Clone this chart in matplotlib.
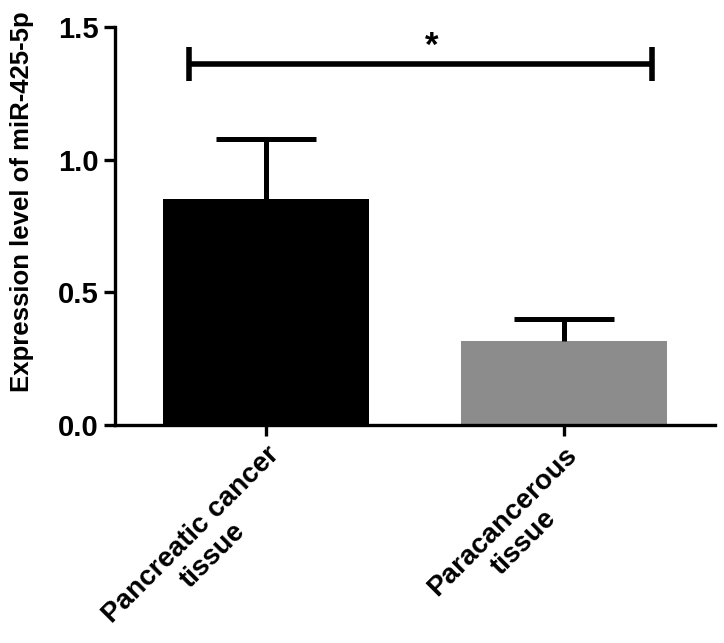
import matplotlib
matplotlib.use("Agg")
from matplotlib import pyplot as plt

groups = ["Pancreatic cancer\ntissue", "Paracancerous\ntissue"]
means = [0.853, 0.316]
sem = [0.226, 0.082]
bar_colors = ["#000000", "#8c8c8c"]
yticks = [0.0, 0.5, 1.0, 1.5]
sig_y = 1.36
sig_text = "*"

plt.rcParams['font.family'] = ['Liberation Sans', 'DejaVu Sans']
plt.rcParams['font.weight'] = 'bold'

fig = plt.figure(figsize=(7.24, 6.43), dpi=100)
ax = fig.add_axes([0.159, 0.339, 0.829, 0.619])

x = [0, 1]
ax.bar(x, means, width=0.69, color=bar_colors, zorder=2)

# upper error bars only (stem + cap)
cap_half = 0.167
for xi, m, e in zip(x, means, sem):
    ax.plot([xi, xi], [m, m + e], color='black', lw=3.6, solid_capstyle='butt', zorder=3)
    ax.plot([xi - cap_half, xi + cap_half], [m + e, m + e], color='black', lw=3.6,
            solid_capstyle='butt', zorder=3)

# significance bracket
ax.plot([-0.258, 1.295], [sig_y, sig_y], color='black', lw=4, solid_capstyle='butt',
        clip_on=False)
for xb in [-0.258, 1.295]:
    ax.plot([xb, xb], [sig_y - 0.065, sig_y + 0.065], color='black', lw=4,
            solid_capstyle='butt', clip_on=False)
ax.text(0.555, sig_y + 0.005, sig_text, ha='center', va='bottom', fontsize=25,
        fontweight='bold')

ax.set_xlim(-0.507, 1.507)
ax.set_ylim(0, 1.5)
ax.set_yticks(yticks)
ax.set_yticklabels(["{:.1f}".format(v) for v in yticks], fontsize=21, fontweight='bold')
ax.set_xticks(x)
ax.set_xticklabels(groups, rotation=45, ha='right', rotation_mode='anchor',
                   multialignment='center', fontsize=20, fontweight='bold')
ax.set_ylabel("Expression level of miR-425-5p", fontsize=18.5, fontweight='bold')
ax.yaxis.set_label_coords(-0.135, 0.56)

for side in ['top', 'right']:
    ax.spines[side].set_visible(False)
for side in ['left', 'bottom']:
    ax.spines[side].set_linewidth(2.4)
ax.tick_params(axis='both', width=2.4, length=8, pad=4)

fig.savefig("out.png", dpi=100)
